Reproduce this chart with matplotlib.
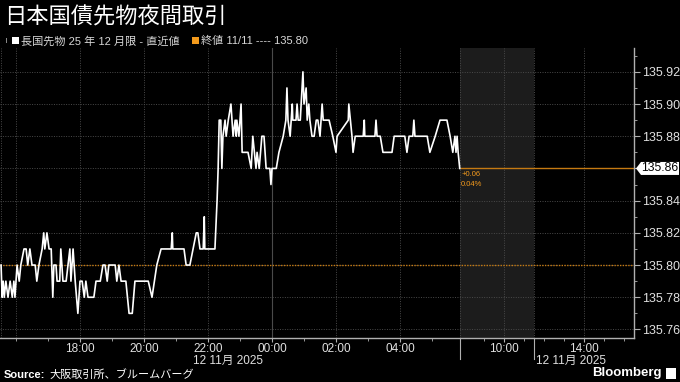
import matplotlib
matplotlib.use("Agg")
import matplotlib.pyplot as plt
import matplotlib.transforms as mtransforms
from matplotlib.patches import Rectangle, Polygon
from matplotlib.ticker import FixedLocator, FixedFormatter

plt.rcParams['font.family'] = ['Liberation Sans', 'Noto Sans CJK JP']

# night session trades (clock time, price)
times = ["15:32", "15:34", "15:36", "15:38", "15:41", "15:45", "15:49", "15:53", "15:56", "15:58",
         "16:02", "16:06", "16:09", "16:15", "16:19", "16:22", "16:26", "16:30", "16:36", "16:39",
         "16:43", "16:49", "16:52", "16:54", "16:58", "17:02", "17:06", "17:09", "17:11", "17:15",
         "17:17", "17:22", "17:24", "17:28", "17:34", "17:41", "17:43", "17:47", "17:51", "17:56",
         "18:00", "18:04", "18:08", "18:11", "18:15", "18:26", "18:30", "18:38", "18:43", "18:47",
         "18:51", "18:54", "19:06", "19:09", "19:13", "19:17", "19:26", "19:32", "19:38", "19:43",
         "20:08", "20:15", "20:24", "20:32", "20:51", "20:53", "20:54", "21:15", "21:19", "21:26",
         "21:32", "21:38", "21:41", "21:45", "21:51", "21:53", "21:54", "22:13", "22:17", "22:19",
         "22:21", "22:24", "22:26", "22:28", "22:32", "22:34", "22:38", "22:43", "22:45", "22:47",
         "22:51", "22:53", "22:54", "22:58", "23:02", "23:04", "23:15", "23:21", "23:24", "23:30",
         "23:32", "23:36", "23:41", "23:45", "23:49", "23:56", "23:58", "00:00", "00:08", "00:13",
         "00:21", "00:26", "00:28", "00:30", "00:34", "00:38", "00:39", "00:45", "00:47", "00:49",
         "00:53", "00:58", "01:00", "01:04", "01:06", "01:09", "01:11", "01:15", "01:19", "01:23",
         "01:26", "01:30", "01:32", "01:34", "01:36", "01:47", "01:54", "02:00", "02:02", "02:23",
         "02:24", "02:30", "02:32", "02:36", "02:51", "02:53", "02:54", "03:13", "03:15", "03:17",
         "03:23", "03:28", "03:45", "03:49", "04:09", "04:13", "04:17", "04:24", "04:26", "04:28",
         "04:51", "04:56", "05:06", "05:15", "05:28", "05:34", "05:39", "05:43", "05:45", "05:47",
         "05:49", "05:52"]
prices = [135.80, 135.78, 135.79, 135.78, 135.79, 135.78, 135.79, 135.78, 135.79, 135.78,
          135.80, 135.79, 135.80, 135.81, 135.81, 135.80, 135.81, 135.80, 135.80, 135.79,
          135.80, 135.81, 135.82, 135.81, 135.82, 135.81, 135.81, 135.78, 135.80, 135.80,
          135.79, 135.79, 135.81, 135.79, 135.79, 135.81, 135.79, 135.81, 135.79, 135.77,
          135.79, 135.79, 135.78, 135.79, 135.78, 135.78, 135.79, 135.79, 135.80, 135.80,
          135.79, 135.80, 135.80, 135.79, 135.80, 135.79, 135.79, 135.77, 135.77, 135.79,
          135.79, 135.78, 135.80, 135.81, 135.81, 135.82, 135.81, 135.81, 135.80, 135.80,
          135.81, 135.82, 135.82, 135.81, 135.81, 135.83, 135.81, 135.81, 135.84, 135.86,
          135.89, 135.89, 135.86, 135.88, 135.89, 135.88, 135.89, 135.90, 135.89, 135.88,
          135.89, 135.88, 135.89, 135.88, 135.90, 135.87, 135.87, 135.86, 135.88, 135.86,
          135.87, 135.86, 135.88, 135.88, 135.86, 135.86, 135.85, 135.86, 135.86, 135.87,
          135.88, 135.89, 135.91, 135.89, 135.88, 135.90, 135.89, 135.89, 135.90, 135.89,
          135.89, 135.92, 135.90, 135.91, 135.89, 135.90, 135.89, 135.88, 135.88, 135.89,
          135.89, 135.88, 135.89, 135.90, 135.89, 135.89, 135.88, 135.87, 135.88, 135.89,
          135.90, 135.88, 135.87, 135.88, 135.88, 135.89, 135.88, 135.88, 135.89, 135.88,
          135.88, 135.87, 135.87, 135.88, 135.88, 135.87, 135.88, 135.88, 135.89, 135.88,
          135.88, 135.87, 135.88, 135.89, 135.89, 135.88, 135.87, 135.88, 135.87, 135.88,
          135.87, 135.86]

prev_close = 135.80
night_ticks = ["18:00", "20:00", "22:00", "00:00", "02:00", "04:00"]
day_ticks = ["10:00", "14:00"]
y_ticks = [135.76, 135.78, 135.80, 135.82, 135.84, 135.86, 135.88, 135.90, 135.92]

W, H = 680, 382
ORANGE = '#f39a1c'
LINE_ORANGE = '#c57a12'


def hours(s):
    h, m = s.split(":")
    return int(h) + int(m) / 60


# night session on a continuous axis (hours after midnight of day before)
def night_pos(s):
    v = hours(s)
    return v + 24 if v < 12 else v


# day session squeezed onto the right hand part of the axis
def day_pos(s):
    return 30 + (hours(s) - 8) * 0.625


x = [night_pos(t) for t in times]
last = prices[-1]
x0, x1 = night_pos("15:30"), day_pos("16:30")
gray_end = day_pos("11:30")

fig = plt.figure(figsize=(W / 100, H / 100), dpi=100, facecolor='black')
ax = fig.add_axes([0, 44 / H, 634 / W, 290 / H])
ax.set_facecolor('black')
ax.set_xlim(x0, x1)
ax.set_ylim(135.7547, 135.9348)

ax.axvspan(x[-1], gray_end, color='#1c1c1c', zorder=0, lw=0)

# grid
grid_x = [night_pos("16:00")] + [night_pos(t) for t in night_ticks] + [day_pos(t) for t in day_ticks]
grid_x += [x[-1], gray_end]
for gx in grid_x:
    if gx == night_pos("00:00"):
        ax.axvline(gx, color='#4a4a4a', lw=0.8, zorder=1)
    else:
        ax.axvline(gx, color='#4a4a4a', lw=0.7, ls=(0, (1, 1.5)), zorder=1)
ax.axvline(x0 + 0.02, color='#4a4a4a', lw=0.7, ls=(0, (1, 1.5)), zorder=1)
for gy in y_ticks:
    ax.axhline(gy, color='#4a4a4a', lw=0.7, ls=(0, (1, 1.5)), zorder=1)

ax.axhline(prev_close, color=LINE_ORANGE, lw=1.0, ls=(0, (1, 1)), zorder=2)
ax.hlines(last, x[-1], x1, color=LINE_ORANGE, lw=1.0, zorder=2)
ax.plot(x, prices, color='white', lw=1.2, zorder=3)

chg = last - prev_close
pct = chg / prev_close * 100
ax.annotate("+%.2f" % chg, (x[-1], last), xytext=(1, -2), textcoords='offset points',
            color=ORANGE, fontsize=5.5, va='top', ha='left')
ax.annotate("%.2f%%" % pct, (x[-1], last), xytext=(1, -9), textcoords='offset points',
            color=ORANGE, fontsize=5.5, va='top', ha='left')

# axes styling
for s in ['top', 'left']:
    ax.spines[s].set_visible(False)
ax.spines['right'].set_color('#b0b0b0')
ax.spines['bottom'].set_color('#b0b0b0')
ax.spines['right'].set_linewidth(1.0)
ax.spines['bottom'].set_linewidth(1.0)

ax.yaxis.tick_right()
ax.yaxis.set_major_locator(FixedLocator(y_ticks))
ax.yaxis.set_major_formatter(FixedFormatter(["" if abs(v - last) < 1e-9 else "%.2f" % v for v in y_ticks]))
ax.yaxis.set_minor_locator(FixedLocator([round(135.75 + 0.01 * i, 2) for i in range(19)]))

xt = [night_pos(t) for t in night_ticks] + [day_pos(t) for t in day_ticks]
ax.xaxis.set_major_locator(FixedLocator(xt))
ax.xaxis.set_major_formatter(FixedFormatter(night_ticks + day_ticks))
minor_x = [float(h) for h in range(16, 30)] + [day_pos("%02d:00" % h) for h in range(9, 17)]
ax.xaxis.set_minor_locator(FixedLocator(minor_x))

ax.tick_params(axis='both', which='major', colors='#b0b0b0', labelcolor='#e0e0e0',
               labelsize=9, length=4, width=0.8, pad=2)
ax.tick_params(axis='x', which='major', length=3, pad=0.3, labelsize=8.5)
ax.tick_params(axis='both', which='minor', colors='#b0b0b0', length=2, width=0.6)

# session separators below axis
trans = mtransforms.blended_transform_factory(ax.transData, ax.transAxes)
for sx in [x[-1], gray_end]:
    ax.plot([sx, sx], [0, -0.072], transform=trans, clip_on=False, color='#b0b0b0', lw=0.8)

# last value tag (white box with a small pointer)
fig.canvas.draw()
ty = fig.transFigure.inverted().transform(ax.transData.transform((x1, last)))[1] * H
tag = [(636, ty), (641, ty - 6.5), (679, ty - 6.5), (679, ty + 6.5), (641, ty + 6.5)]
fig.patches.append(Polygon([(px / W, py / H) for px, py in tag], closed=True,
                           transform=fig.transFigure, fc='white', ec='none'))
fig.text(641 / W, ty / H, "%.2f" % last, color='black', fontsize=8.8, va='center', ha='left')

# outside texts
fig.text(193 / W, 1 - 361 / H, "12 11月 2025", color='#e0e0e0', fontsize=8.5, va='center')
fig.text(536 / W, 1 - 361 / H, "12 11月 2025", color='#e0e0e0', fontsize=8.5, va='center')

fig.text(4 / W, 1 - 17 / H, "日本国債先物夜間取引", color='white', fontsize=16, va='center',
         family=['Noto Sans CJK JP'])
fig.patches.append(Rectangle((12 / W, 1 - 44 / H), 7 / W, 7 / H, transform=fig.transFigure,
                             fc='white', ec='none'))
fig.patches.append(Rectangle((6 / W, 1 - 43 / H), 1 / W, 5 / H, transform=fig.transFigure,
                             fc='#888888', ec='none'))
fig.text(21 / W, 1 - 41 / H, "長国先物 25 年 12 月限 - 直近値", color='#d8d8d8', fontsize=8, va='center')
fig.patches.append(Rectangle((192 / W, 1 - 44 / H), 7 / W, 7 / H, transform=fig.transFigure,
                             fc=ORANGE, ec='none'))
fig.text(201 / W, 1 - 41 / H, "終値 11/11 ---- %.2f" % prev_close, color='#d8d8d8', fontsize=8, va='center')

fig.text(4 / W, 1 - 375 / H, "Source:", color='white', fontsize=8, weight='bold', va='center')
fig.text(49 / W, 1 - 375 / H, "大阪取引所、ブルームバーグ", color='white', fontsize=8, va='center')
fig.text(662 / W, 1 - 373 / H, "Bloomberg", color='white', fontsize=9.5, weight='bold',
         va='center', ha='right')
fig.patches.append(Rectangle((666 / W, 1 - 379 / H), 10 / W, 11 / H, transform=fig.transFigure,
                             fc='white', ec='none'))

fig.savefig("out.png", dpi=100, facecolor='black')
